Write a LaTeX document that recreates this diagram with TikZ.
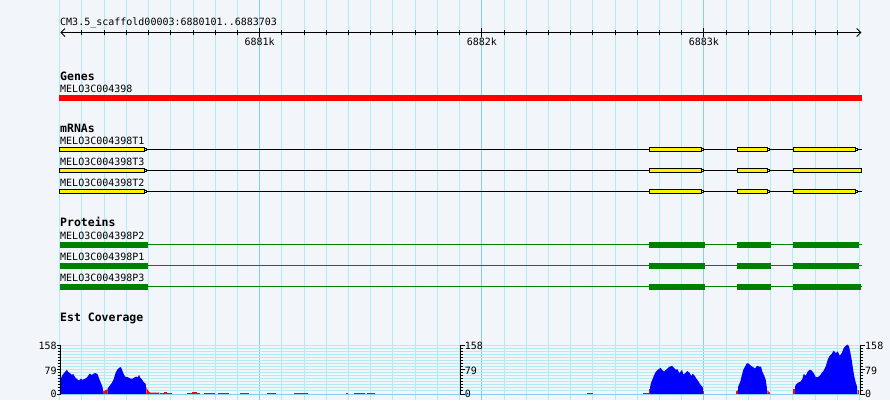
\documentclass[tikz,border=0pt]{standalone}
\usepackage{fontspec}
\usetikzlibrary{calc}
\newfontfamily\monofam{DejaVu Sans Mono}
\newcommand\lblfont{\fontsize{10}{12}\selectfont\monofam}
\newcommand\sectfont{\fontsize{11.5}{13}\selectfont\monofam\bfseries}
\definecolor{bgpanel}{RGB}{242,245,250}
\definecolor{gridminor}{RGB}{176,236,240}
\definecolor{gridmajor}{RGB}{135,206,235}
\definecolor{cdsgreen}{RGB}{0,128,0}
\definecolor{covblue}{RGB}{0,0,255}
\definecolor{covred}{RGB}{255,0,0}
\tikzset{
  lbl/.style={font=\lblfont, anchor=base west, inner sep=0pt, text=black},
  sect/.style={font=\sectfont, anchor=base west, inner sep=0pt, text=black},
  minorgrid/.style={draw=gridminor, line width=1pt},
  majorgrid/.style={draw=gridmajor, line width=1pt},
  rulerline/.style={draw=black, line width=1pt},
  exonbox/.style={draw=black, fill=yellow, line width=1pt},
  tipbox/.style={draw=black, fill=yellow, line width=0.8pt},
  intronline/.style={draw=black, line width=1pt},
  cdsbar/.style={fill=cdsgreen},
  cdsline/.style={draw=cdsgreen, line width=1pt},
  genebar/.style={fill=covred},
  axisline/.style={draw=black, line width=1pt},
}
\begin{document}
\begin{tikzpicture}[x=1pt,y=-1pt]
\useasboundingbox (0,0) rectangle (890,400);
\fill[bgpanel] (0,0) rectangle (890,400);

% vertical grid
\foreach \k in {0,...,36}{
  \pgfmathsetmacro{\gx}{59.78+22.212*\k}
  \draw[minorgrid] (\gx,0) -- (\gx,400);
}
\foreach \k in {9,19,29}{
  \pgfmathsetmacro{\gx}{59.78+22.212*\k}
  \draw[majorgrid] (\gx,0) -- (\gx,400);
}
% horizontal grid of coverage plot
\foreach \k in {0,...,15}{
  \pgfmathsetmacro{\gy}{345+3.0625*\k}
  \draw[minorgrid] (60,\gy) -- (860,\gy);
}
\draw[majorgrid] (60,394.3) -- (860,394.3);

% ruler
\node[lbl] (title) at (60,25) {CM3.5\_scaffold00003:6880101..6883703};
\coordinate (rl) at (61,32.5);
\coordinate (rr) at (860.7,32.5);
\draw[rulerline] (rl) -- (rr);
\draw[rulerline] ($(rl)+(4,-4)$) -- (rl) -- ($(rl)+(4,4)$);
\draw[rulerline] ($(rr)+(-4,-4)$) -- (rr) -- ($(rr)+(-4,4)$);
\foreach \k in {1,...,35}{
  \pgfmathsetmacro{\gx}{59.78+22.212*\k}
  \draw[black, line width=1pt] (\gx,30.3) -- (\gx,34.6);
}
\foreach \k/\t in {9/6881k,19/6882k,29/6883k}{
  \pgfmathsetmacro{\gx}{59.78+22.212*\k}
  \draw[black, line width=1pt] (\gx,27.5) -- (\gx,37);
  \node[lbl, anchor=base] (tick\k) at (\gx,45.8) {\t};
}

% Genes
\node[sect] (genes) at (60,80) {Genes};
\node[lbl] (gene1) at (60,92.3) {MELO3C004398};
\fill[genebar] (59,95) rectangle (861.7,100.8);

% mRNAs
\node[sect] (mrnas) at (60,132.2) {mRNAs};
\node[lbl] (t1) at (60,144.3) {MELO3C004398T1};
\node[lbl] (t3) at (60,165.3) {MELO3C004398T3};
\node[lbl] (t2) at (60,186.2) {MELO3C004398T2};
\foreach \yy in {149.5,170.5,191.3}{
  \draw[intronline] (146,\yy) -- (862,\yy);
  \draw[exonbox] (59.5,\yy-1.7) rectangle (144,\yy+1.7);
  \draw[tipbox] (144,\yy-0.8) rectangle (146.2,\yy+0.8);
  \draw[exonbox] (649.5,\yy-1.7) rectangle (701,\yy+1.7);
  \draw[tipbox] (701,\yy-0.8) rectangle (703.2,\yy+0.8);
  \draw[exonbox] (737.5,\yy-1.7) rectangle (767,\yy+1.7);
  \draw[tipbox] (767,\yy-0.8) rectangle (769.2,\yy+0.8);
}
\foreach \yy in {149.5,191.3}{
  \draw[exonbox] (793.5,\yy-1.7) rectangle (855,\yy+1.7);
  \draw[tipbox] (855,\yy-0.8) rectangle (857.2,\yy+0.8);
}
\draw[exonbox] (793.5,170.5-1.7) rectangle (861.5,170.5+1.7);

% Proteins
\node[sect] (proteins) at (60,226.6) {Proteins};
\node[lbl] (p2) at (60,239.3) {MELO3C004398P2};
\node[lbl] (p1) at (60,260.3) {MELO3C004398P1};
\node[lbl] (p3) at (60,281.1) {MELO3C004398P3};
\foreach \yy/\e in {242/859, 263/859, 284/861}{
  \draw[cdsline] (147.7,\yy+2.6) -- (862,\yy+2.6);
  \fill[cdsbar] (60,\yy) rectangle (147.7,\yy+5.7);
  \fill[cdsbar] (649,\yy) rectangle (705,\yy+5.7);
  \fill[cdsbar] (737,\yy) rectangle (771,\yy+5.7);
  \fill[cdsbar] (793,\yy) rectangle (\e,\yy+5.7);
}

% Est coverage
\node[sect] (est) at (60,321.7) {Est Coverage};
\begin{scope}[shift={(0,393.8)}, yscale=-1]
  % peak A
  \fill[covblue] (60.5,0) -- (60.5,14) -- (62,18) -- (64,20.7) -- (66,23) -- (67,24) -- (68.3,21.7) -- (70,20.7) -- (71.7,19) -- (73.3,19.7) -- (75,16.7) -- (77,14.7) -- (79,13.3) -- (81,15.3) -- (82.3,14) -- (85,15) -- (87.3,16.7) -- (89.7,20.3) -- (91.7,18.7) -- (93.7,20.3) -- (95.7,20.7) -- (97.7,19.3) -- (99.3,14.7) -- (101,10.7) -- (102.7,6.3) -- (103,0) -- cycle;
  \fill[covred] (103,0) -- (103,3) -- (104,2.3) -- (105,3.5) -- (106,4) -- (107.5,4.5) -- (107.5,0) -- cycle;
  \fill[covblue] (107.5,0) -- (107.5,5) -- (109,7.3) -- (111.7,10.7) -- (113.7,14.7) -- (115.7,21.3) -- (117.7,24.7) -- (119.7,26.3) -- (121,26.7) -- (122.3,23.3) -- (124,19) -- (125.7,16.7) -- (127.7,16.7) -- (130.3,15.3) -- (132.3,15) -- (134.3,16.3) -- (136.3,17.3) -- (137.7,16.3) -- (139,19) -- (140.3,16) -- (141.7,14.7) -- (143.7,11.7) -- (145.7,10) -- (146.3,0) -- cycle;
  \fill[covred] (146.3,0) -- (146.3,6.7) -- (147.7,4) -- (149,2) -- (150.3,1.2) -- (159.3,1.2) -- (159.3,0) -- cycle;
  % small red bits
  \foreach \a/\b in {160/172,187.3/200,204/214.7,218.3/228.7,240/248.7,267.3/276,294/308.3,346/348.3,354/365,366.7/375,586.7/593.3,643/649}{
    \fill[covred] (\a,0) rectangle (\b,1.2);
  }
  \fill[covred] (164,0) rectangle (166.7,2.2);
  \fill[covred] (192,0) rectangle (196.7,2.2);
  % peak B
  \fill[covred] (649,0) rectangle (650.2,4.7);
  \fill[covblue] (650.2,0) -- (650.2,7.3) -- (651,10.7) -- (652,13.3) -- (653.3,16.7) -- (654.7,20) -- (656,22.3) -- (657.7,24) -- (659.3,25) -- (660.7,26) -- (662,24) -- (664,22.3) -- (666,24) -- (668,26) -- (670,27.3) -- (672,28) -- (674,26) -- (676,24) -- (677.3,24.7) -- (679.3,20.7) -- (680.7,22.3) -- (682,24) -- (683.3,19.3) -- (685.3,20.7) -- (687.3,22.7) -- (689.3,21.3) -- (691.3,18) -- (692.7,20) -- (694.7,18) -- (696.7,14.7) -- (698.7,12) -- (700.7,8.7) -- (702.7,6.7) -- (703.3,0) -- cycle;
  \fill[covred] (703.3,0) rectangle (704.4,3.3);
  % peak C
  \fill[covred] (736,0) -- (736,2.3) -- (737,3) -- (738,4) -- (738,0) -- cycle;
  \fill[covblue] (738,0) -- (738,6.7) -- (740.3,12.3) -- (741.7,18) -- (743.3,24) -- (745,27.3) -- (747,30.7) -- (749,30) -- (751,28) -- (753,26.7) -- (755,25.3) -- (757,28) -- (759,27.3) -- (761,27.3) -- (762.3,22.3) -- (764.3,18) -- (765.7,14) -- (766.7,7.3) -- (767.3,0) -- cycle;
  \fill[covred] (767.3,0) -- (767.3,3.3) -- (768.5,2.3) -- (769.7,1.3) -- (770,0) -- cycle;
  % peak D
  \fill[covred] (793.3,0) rectangle (795,4.7);
  \fill[covblue] (795,0) -- (795,7.3) -- (796.3,9.7) -- (798.3,11.3) -- (800.3,12) -- (802.3,14.7) -- (803.7,20) -- (805.7,18) -- (807.7,22.3) -- (809.7,24) -- (811.7,23.3) -- (813.7,20.7) -- (815.7,16.7) -- (817.7,16.7) -- (819.7,18) -- (821.7,20.7) -- (823.7,23.3) -- (825.7,27.3) -- (827.7,34) -- (829.7,38) -- (831.7,40) -- (833.7,43.3) -- (835.7,40.7) -- (837.7,42.3) -- (839.7,38) -- (841.7,40.7) -- (843.7,45.7) -- (845.7,48) -- (847.7,49.3) -- (849,47.3) -- (850.3,41.3) -- (851.7,34) -- (853,24.7) -- (854.3,17.3) -- (855.7,11.3) -- (857,7.3) -- (857.5,0) -- cycle;
  \fill[covred] (857.5,0) rectangle (859,4);
\end{scope}

% y axes
\draw[axisline] (60.5,344.5) -- (60.5,394.5);
\draw[axisline] (460.5,344.5) -- (460.5,394.5);
\draw[axisline] (860.5,344.5) -- (860.5,394.5);
\foreach \k in {0,...,16}{
  \pgfmathsetmacro{\gy}{345+3.0625*\k}
  \draw[black, line width=1pt] (57.7,\gy) -- (60.5,\gy);
  \draw[black, line width=1pt] (460.5,\gy) -- (463.3,\gy);
  \draw[black, line width=1pt] (860.5,\gy) -- (863.3,\gy);
}
\foreach \gy in {345,369.5,394}{
  \draw[black, line width=1pt] (56.5,\gy) -- (60.5,\gy);
  \draw[black, line width=1pt] (460.5,\gy) -- (464.5,\gy);
  \draw[black, line width=1pt] (860.5,\gy) -- (864.5,\gy);
}
\node[lbl, anchor=base east] (la158) at (56.8,349) {158};
\node[lbl, anchor=base east] (la79) at (56.8,374) {79};
\node[lbl, anchor=base east] (la0) at (56.8,397.4) {0};
\node[lbl] (ma158) at (464.7,349) {158};
\node[lbl] (ma79) at (464.7,374) {79};
\node[lbl] (ma0) at (464.7,397.4) {0};
\node[lbl] (ra158) at (865,349) {158};
\node[lbl] (ra79) at (865,374) {79};
\node[lbl] (ra0) at (865,397.4) {0};
\end{tikzpicture}
\end{document}
